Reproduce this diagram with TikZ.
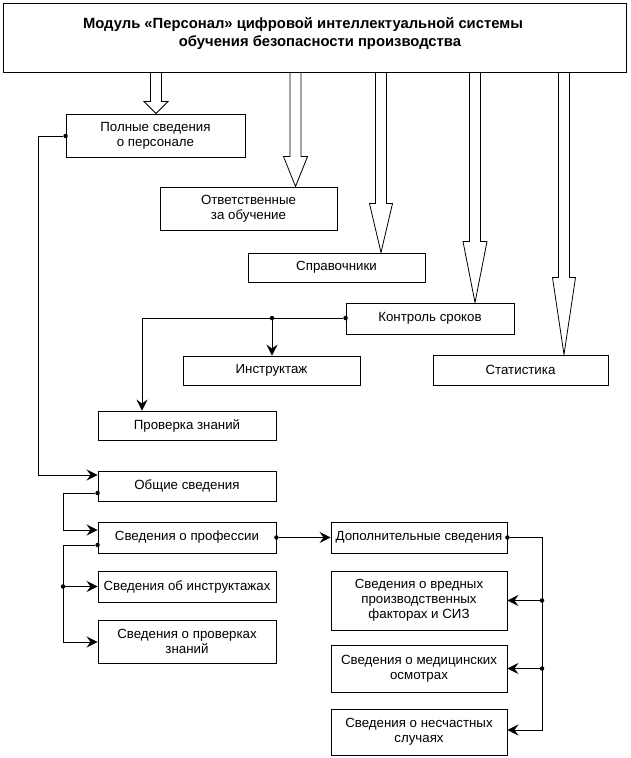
\documentclass[tikz,border=0pt]{standalone}
\usepackage{fontspec}
\setmainfont{Liberation Sans}
\usetikzlibrary{arrows.meta,calc}
\begin{document}
\begin{tikzpicture}[x=1pt,y=-1pt,
  box/.style={draw=black,line width=0.9pt,inner sep=0pt,align=center,
    font=\fontsize{13.3}{15}\selectfont},
  hollow/.style={draw=black,line width=0.8pt,line join=miter},
  conn/.style={draw=black,line width=0.9pt},
  arr/.style={conn,-{Stealth[length=11pt,width=11pt,inset=4pt]}},
  dot/.style={circle,fill=black,inner sep=0pt,minimum size=4.5pt}
]
\useasboundingbox (0,0) rectangle (631,758);

% boxes
\node[box,minimum width=623,minimum height=69] (top) at (314.5,37.5) {};
\node[font=\fontsize{14.8}{18}\selectfont\bfseries,align=center,inner sep=0pt] (title) at (314.5,34)
  {Модуль «Персонал» цифровой интеллектуальной системы\hspace*{23pt}\\\hspace*{11pt}обучения безопасности производства};
\node[box,minimum width=179,minimum height=43] (p1) at (155.5,135.5) {Полные сведения\\о персонале};
\node[box,minimum width=177,minimum height=43] (p2) at (248.5,208.5) {Ответственные\\за обучение};
\node[box,minimum width=177,minimum height=29] (p3) at (336.5,267.5) {Справочники};
\node[box,minimum width=168,minimum height=31] (p4) at (430,318.5) {Контроль сроков};
\node[box,minimum width=175,minimum height=30] (p5) at (520.5,370) {Статистика};
\node[box,minimum width=177,minimum height=29] (instr) at (271.5,370.5) {Инструктаж};
\node[box,minimum width=178,minimum height=29] (prov) at (187,425.5) {Проверка знаний};
\node[box,minimum width=178,minimum height=30] (obsh) at (187,486) {Общие сведения};
\node[box,minimum width=178,minimum height=31] (prof) at (187,537.5) {Сведения о профессии};
\node[box,minimum width=178,minimum height=31] (sinstr) at (187,586.5) {Сведения об инструктажах};
\node[box,minimum width=178,minimum height=43] (sprov) at (187,641.5) {Сведения о проверках\\знаний};
\node[box,minimum width=176,minimum height=31] (dop) at (419,537.5) {Дополнительные сведения};
\node[box,minimum width=176,minimum height=59] (vred) at (419,600.5) {Сведения о вредных\\производственных\\факторах и СИЗ};
\node[box,minimum width=176,minimum height=47] (med) at (419,668.5) {Сведения о медицинских\\осмотрах};
\node[box,minimum width=176,minimum height=46] (nesch) at (419,732) {Сведения о несчастных\\случаях};

% hollow arrows from the module box
\newcommand{\hollowarrow}[4]{% #1 x-coordinate name, #2 target, #3 head length, #4 head half width
  \draw[hollow] ($(top.south -| #1)+(-5.5,0)$) -- ($(#2.north -| #1)+(-5.5,-#3)$)
    -- ($(#2.north -| #1)+(-#4,-#3)$) -- (#2.north -| #1)
    -- ($(#2.north -| #1)+(#4,-#3)$) -- ($(#2.north -| #1)+(5.5,-#3)$)
    -- ($(top.south -| #1)+(5.5,0)$);}
\coordinate (ax1) at (156,0);
\coordinate (ax2) at (295.5,0);
\coordinate (ax3) at (381,0);
\coordinate (ax4) at (475,0);
\coordinate (ax5) at (564,0);
\hollowarrow{ax1}{p1}{12}{12}
\hollowarrow{ax2}{p2}{30}{12}
\hollowarrow{ax3}{p3}{49}{11.5}
\hollowarrow{ax4}{p4}{61}{12}
\hollowarrow{ax5}{p5}{77}{11.5}

% left trunk: personnel -> general info
\coordinate (lx1) at (38,0);
\coordinate (lx2) at (63,0);
\node[dot] (d1) at (p1.west |- 0,136) {};
\draw[arr] (d1) -| (lx1 |- 0,475) -- (obsh.west |- 0,475);

\node[dot] (d2) at (obsh.west |- 0,493) {};
\draw[arr] (d2) -| (lx2 |- 0,530) -- (prof.west |- 0,530);

\node[dot] (d3) at (prof.west |- 0,545) {};
\node[dot] (d4) at (lx2 |- sinstr.west) {};
\draw[arr] (d3) -| (lx2 |- 0,642) -- (sprov.west |- 0,642);
\draw[arr] (d4) -- (sinstr.west);

% profession -> additional
\node[dot] (d5) at (prof.east) {};
\draw[arr] (d5) -- (dop.west);

% additional -> right column
\coordinate (rx) at (542,0);
\node[dot] (d6) at (dop.east) {};
\node[dot] (d7) at (rx |- vred.east) {};
\node[dot] (d8) at (rx |- med.east) {};
\draw[arr] (d6) -| (rx |- 0,730) -- (nesch.east |- 0,730);
\draw[arr] (d7) -- (vred.east);
\draw[arr] (d8) -- (med.east);

% control -> briefing / knowledge check
\coordinate (cx1) at (142,0);
\coordinate (cx2) at (272,0);
\node[dot] (d9) at (p4.west |- 0,318) {};
\node[dot] (d10) at (cx2 |- 0,318) {};
\draw[arr] (d9) -| (prov.north -| cx1);
\draw[arr] (d10) -- (instr.north -| cx2);
\end{tikzpicture}
\end{document}
